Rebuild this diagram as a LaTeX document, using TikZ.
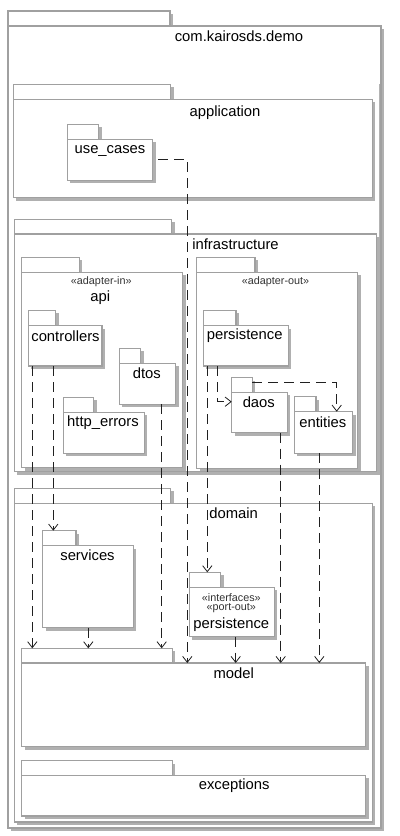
\documentclass[tikz,border=0pt]{standalone}
\usepackage{fontspec}
\setmainfont{Liberation Sans}
\usetikzlibrary{arrows.meta,fit,calc}
\definecolor{pkgc}{HTML}{A0A0A0}
\definecolor{shadc}{HTML}{B0B0B0}
\definecolor{depc}{HTML}{202020}
\tikzset{
  pkgline/.style={draw=pkgc, line width=0.8pt},
  shadowfill/.style={fill=shadc},
  lbl/.style={inner sep=0pt, font=\fontsize{11.1pt}{13pt}\selectfont, text=black},
  stereo/.style={inner sep=0pt, font=\fontsize{8.1pt}{9.5pt}\selectfont, text=black!80},
  dep/.style={draw=depc, line width=0.75pt, dash pattern=on 7.5pt off 4.5pt,
    -{Straight Barb[length=4.5pt,width=7pt,line width=0.6pt]}},
  holder/.style={inner sep=0pt, outer sep=0pt}
}
% #1 name, #2 x1, #3 tab right, #4 tab top, #5 body top, #6 x2, #7 bottom
\newcommand\pkgbox[7]{%
  \fill[shadowfill] (#2+3,#4+3) rectangle (#3+3,#5+3);
  \fill[shadowfill] (#2+3,#5+3) rectangle (#6+3,#7+3);
  \filldraw[pkgline, fill=white] (#2,#4) rectangle (#3,#5);
  \filldraw[pkgline, fill=white] (#2,#5) rectangle (#6,#7);
  \coordinate (#1-nw) at (#2,#5);
  \coordinate (#1-se) at (#6,#7);
  \coordinate (#1-tnw) at (#2,#4);
  \coordinate (#1-tse) at (#3,#5);
  \node[holder, fit=(#1-nw)(#1-se)] (#1) {};
  \node[holder, fit=(#1-tnw)(#1-tse)] (#1tab) {};
}
\begin{document}
\begin{tikzpicture}[x=0.75pt,y=-0.75pt]
\useasboundingbox (0,0) rectangle (400,836);
\fill[white] (0,0) rectangle (400,836);

% outer package
\pkgbox{demo}{8}{170}{11}{26}{381}{828}
\node[lbl] (demolbl) at (239,36) {com.kairosds.demo};
\draw[draw=pkgc!80, line width=0.6pt] (379.3,84) coordinate (sbtop) -- (379.3,321.7) coordinate (sbbot);

% application
\pkgbox{application}{13.3}{170.7}{84.3}{99.3}{372.3}{197.7}
\node[lbl] (applbl) at (225,112.7) {application};
\pkgbox{usecases}{67.3}{98.7}{124.3}{139.3}{152.7}{180.3}
\node[lbl] (uclbl) at (110,150.7) {use\_cases};

% infrastructure
\pkgbox{infra}{14.3}{171.7}{219.3}{234}{376.7}{471.7}
\node[lbl] (infralbl) at (235.5,244) {infrastructure};

\pkgbox{api}{21.7}{79.3}{257.3}{272.3}{182.7}{467.7}
\node[stereo] (apist) at (101.3,281.7) {«adapter-in»};
\node[lbl] (apilbl) at (100.3,297.7) {api};

\pkgbox{controllers}{28.3}{55.7}{310.3}{325.7}{102}{366}
\node[lbl] (ctrllbl) at (65.5,336.7) {controllers};
\pkgbox{dtos}{119.3}{140.7}{348.3}{363.3}{175.7}{404.3}
\node[lbl] (dtoslbl) at (146.8,373.3) {dtos};
\pkgbox{httperrors}{63.3}{93.7}{397.3}{412.3}{144.3}{453.3}
\node[lbl] (httplbl) at (103,422.3) {http\_errors};

\pkgbox{adout}{196.7}{255}{257.3}{272.3}{357.7}{468.3}
\node[stereo] (adoutst) at (275.5,281.7) {«adapter-out»};

\pkgbox{infpers}{203.3}{236}{310.3}{325.7}{288.3}{366}
\node[lbl] (infperslbl) at (244.7,335.7) {persistence};
\pkgbox{daos}{231.7}{252.3}{377.7}{392.3}{287.3}{432.7}
\node[lbl] (daoslbl) at (258.8,402.3) {daos};
\pkgbox{entities}{294.3}{316}{396.7}{411.7}{352.7}{453.3}
\node[lbl] (entlbl) at (322.8,422.3) {entities};

% domain
\pkgbox{domain}{14.3}{170.7}{488.3}{503.3}{372.3}{822}
\node[lbl] (domlbl) at (233.7,513.3) {domain};
\pkgbox{services}{42.7}{76}{530.7}{545.7}{133.3}{627.7}
\node[lbl] (servlbl) at (87.5,555.7) {services};
\pkgbox{dompers}{189.3}{220.7}{572.3}{587.3}{274.3}{636.7}
\node[stereo] (dompst1) at (231.3,597.3) {«interfaces»};
\node[stereo] (dompst2) at (231.3,608.3) {«port-out»};
\node[lbl] (domperslbl) at (231.3,625) {persistence};
\pkgbox{model}{21.7}{172.3}{648.3}{663}{365.7}{746.7}
\node[lbl] (modellbl) at (233.7,673.3) {model};
\pkgbox{exceptions}{21.7}{172.3}{760.7}{775.3}{365.7}{816}
\node[lbl] (exclbl) at (234.2,785.7) {exceptions};

% connectors
\coordinate (ucout) at (158,159.3);
\coordinate (ucbend) at (187.3,159.3);
\draw[dep] (ucout) -- (ucbend) -- (ucbend |- model.north);

\coordinate (ctrl1) at (32.3,366);
\draw[dep] (ctrl1) -- (ctrl1 |- modeltab.north);
\coordinate (ctrl2) at (53.3,366);
\draw[dep] (ctrl2) -- (ctrl2 |- servicestab.north);
\coordinate (dtosout) at (161.7,404.3);
\draw[dep] (dtosout) -- (dtosout |- modeltab.north);
\coordinate (servout) at (88.3,627.7);
\draw[dep] (servout) -- (servout |- modeltab.north);

\coordinate (ip1) at (207.3,366);
\draw[dep] (ip1) -- (ip1 |- domperstab.north);
\coordinate (ip2) at (217.7,366);
\coordinate (ip2bend) at (217.7,401.7);
\draw[dep] (ip2) -- (ip2bend) -- (ip2bend -| daos.west);

\coordinate (daosout) at (252.3,382.7);
\coordinate (daosbend) at (336.7,382.7);
\draw[dep] (daosout) -- (daosbend) -- (daosbend |- entities.north);

\coordinate (daosdown) at (280.7,432.7);
\draw[dep] (daosdown) -- (daosdown |- model.north);
\coordinate (entdown) at (319.3,453.3);
\draw[dep] (entdown) -- (entdown |- model.north);
\coordinate (dpdown) at (235.7,636.7);
\draw[dep] (dpdown) -- (dpdown |- model.north);
\end{tikzpicture}
\end{document}
